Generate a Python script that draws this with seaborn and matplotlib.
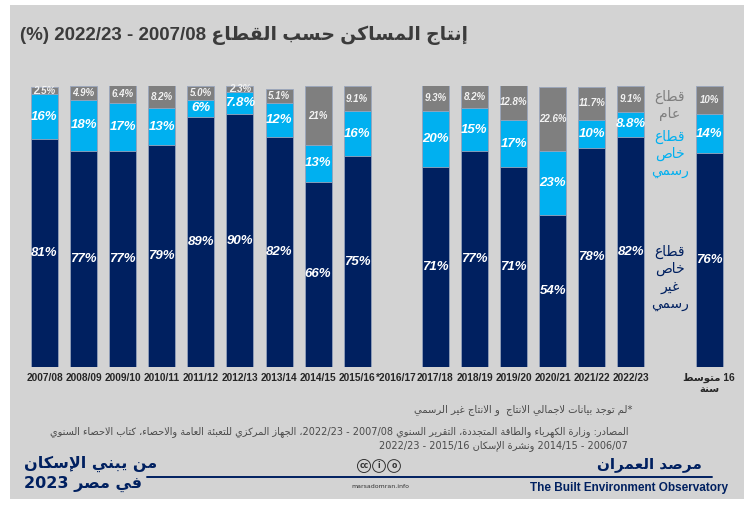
import re
import numpy as np
import pandas as pd
import matplotlib
matplotlib.use('Agg')
import matplotlib.pyplot as plt
from matplotlib import font_manager
from matplotlib.patches import Rectangle
import seaborn as sns

# ------------------------------------------------------------------
# Data
years = ['2007/08', '2008/09', '2009/10', '2010/11', '2011/12', '2012/13',
         '2013/14', '2014/15', '2015/16', '2017/18', '2018/19', '2019/20',
         '2020/21', '2021/22', '2022/23', 'avg']
informal = [81, 77, 77, 79, 89, 90, 82, 66, 75, 71, 77, 71, 54, 78, 82, 76]
formal = [16, 18, 17, 13, 6, 7.8, 12, 13, 16, 20, 15, 17, 23, 10, 8.8, 14]
public = [2.5, 4.9, 6.4, 8.2, 5.0, 2.3, 5.1, 21, 9.1, 9.3, 8.2, 12.8, 22.6, 11.7, 9.1, 10]
public_labels = ['2.5%', '4.9%', '6.4%', '8.2%', '5.0%', '2.3%', '5.1%', '21%', '9.1%',
                 '9.3%', '8.2%', '12.8%', '22.6%', '11.7%', '9.1%', '10%']

# slot order on the x axis: 2016/17 has no data, 'gap' holds the legend words
slots = years[:9] + ['2016/17'] + years[9:15] + ['gap', 'avg']

title = 'إنتاج المساكن حسب القطاع 2007/08 - 2022/23 (%)'
avg_label = ['16 متوسط', 'سنة']
legend_public = ['قطاع', 'عام']
legend_formal = ['قطاع', 'خاص', 'رسمي']
legend_informal = ['قطاع', 'خاص', 'غير', 'رسمي']
note = '*لم توجد بيانات لاجمالي الانتاج  و الانتاج غير الرسمي'
sources = ['المصادر: وزارة الكهرباء والطاقة المتجددة، التقرير السنوي 2007/08 - 2022/23، الجهاز المركزي للتعبئة العامة والاحصاء، كتاب الاحصاء السنوي',
           '2006/07 - 2014/15 ونشرة الإسكان 2015/16 - 2022/23']
brand_left = ['من يبني الإسكان', 'في مصر 2023']
brand_right = 'مرصد العمران'

NAVY = '#002060'
BLUE = '#00b0f0'
GREY = '#7f7f7f'
PANEL = '#d3d3d3'

# ------------------------------------------------------------------
# Minimal Arabic shaping + right-to-left ordering (matplotlib 3.10 has none)
FORMS = {
    '\u0621': (0xFE80, 1), '\u0622': (0xFE81, 2), '\u0623': (0xFE83, 2),
    '\u0624': (0xFE85, 2), '\u0625': (0xFE87, 2), '\u0626': (0xFE89, 4),
    '\u0627': (0xFE8D, 2), '\u0628': (0xFE8F, 4), '\u0629': (0xFE93, 2),
    '\u062A': (0xFE95, 4), '\u062B': (0xFE99, 4), '\u062C': (0xFE9D, 4),
    '\u062D': (0xFEA1, 4), '\u062E': (0xFEA5, 4), '\u062F': (0xFEA9, 2),
    '\u0630': (0xFEAB, 2), '\u0631': (0xFEAD, 2), '\u0632': (0xFEAF, 2),
    '\u0633': (0xFEB1, 4), '\u0634': (0xFEB5, 4), '\u0635': (0xFEB9, 4),
    '\u0636': (0xFEBD, 4), '\u0637': (0xFEC1, 4), '\u0638': (0xFEC5, 4),
    '\u0639': (0xFEC9, 4), '\u063A': (0xFECD, 4), '\u0641': (0xFED1, 4),
    '\u0642': (0xFED5, 4), '\u0643': (0xFED9, 4), '\u0644': (0xFEDD, 4),
    '\u0645': (0xFEE1, 4), '\u0646': (0xFEE5, 4), '\u0647': (0xFEE9, 4),
    '\u0648': (0xFEED, 2), '\u0649': (0xFEEF, 2), '\u064A': (0xFEF1, 4),
}
LAM_ALEF = {'\u0622': 0xFEF5, '\u0623': 0xFEF7, '\u0625': 0xFEF9, '\u0627': 0xFEFB}
MIRROR = {'(': ')', ')': '('}


def shape(text):
    units = []
    i = 0
    while i < len(text):
        c = text[i]
        if c == '\u0644' and i + 1 < len(text) and text[i + 1] in LAM_ALEF:
            units.append(('LA', text[i + 1]))
            i += 2
        else:
            units.append((c, None))
            i += 1

    def joins_next(u):
        return u[0] in FORMS and FORMS[u[0]][1] == 4

    def joins_prev(u):
        return u[0] == 'LA' or (u[0] in FORMS and FORMS[u[0]][1] >= 2)

    out = []
    for k, u in enumerate(units):
        prev = k > 0 and joins_next(units[k - 1]) and joins_prev(u)
        nxt = k < len(units) - 1 and joins_next(u) and joins_prev(units[k + 1])
        if u[0] == 'LA':
            out.append(chr(LAM_ALEF[u[1]] + (1 if prev else 0)))
        elif u[0] in FORMS:
            base, n = FORMS[u[0]]
            if n == 4:
                off = 3 if (prev and nxt) else 1 if prev else 2 if nxt else 0
            elif n == 2:
                off = 1 if prev else 0
            else:
                off = 0
            out.append(chr(base + off))
        else:
            out.append(u[0])
    return ''.join(out)


def rtl(text):
    tokens = re.findall(r'[0-9A-Za-z/.%]+|[^0-9A-Za-z/.%]', shape(text))
    return ''.join(MIRROR.get(t, t) for t in reversed(tokens))


# ------------------------------------------------------------------
names = {f.name for f in font_manager.fontManager.ttflist}
NARROW = 'Liberation Sans Narrow' if 'Liberation Sans Narrow' in names else 'Liberation Sans'

sns.set_style('white')
plt.rcParams['font.family'] = [NARROW, 'DejaVu Sans']

W, H = 756, 516
fig = plt.figure(figsize=(W / 100, H / 100), dpi=100, facecolor='white')
fig.add_artist(Rectangle((10 / W, 1 - 499 / H), 734 / W, 494 / H,
                         transform=fig.transFigure, facecolor=PANEL,
                         edgecolor='none', zorder=-5))


def ftext(x, y, s, **kw):
    fig.text(x / W, 1 - y / H, s, **kw)


ax = fig.add_axes([21 / W, 1 - 367 / H, 711.5 / W, 281 / H])
ax.set_facecolor('none')

df = pd.DataFrame({'period': years, 'informal': informal,
                   'formal': formal, 'public': public})
df['formal_top'] = df['informal'] + df['formal']
df['public_top'] = df['formal_top'] + df['public']

bar_kw = dict(data=df, x='period', order=slots, width=0.69, saturation=1,
              errorbar=None, edgecolor='#9aa6bd', linewidth=0.6, ax=ax)
sns.barplot(y='public_top', color=GREY, **bar_kw)
sns.barplot(y='formal_top', color=BLUE, **bar_kw)
sns.barplot(y='informal', color=NAVY, **bar_kw)

# value labels
for _, row in df.iterrows():
    xi = slots.index(row['period'])
    k = years.index(row['period'])
    ax.text(xi, row['informal'] / 2, f"{row['informal']:g}%", ha='center', va='center',
            color='white', fontsize=9.5, fontweight='bold', style='italic',
            family='Liberation Sans')
    ax.text(xi, row['informal'] + row['formal'] / 2, f"{row['formal']:g}%", ha='center',
            va='center', color='white', fontsize=9.5, fontweight='bold', style='italic',
            family='Liberation Sans')
    ax.text(xi, row['formal_top'] + row['public'] / 2, public_labels[k], ha='center',
            va='center', color='#f2f2f2', fontsize=7, fontweight='bold', style='italic',
            family='Liberation Sans')

# legend words in the gap column
gx = slots.index('gap')
for j, w in enumerate(legend_public):
    ax.text(gx, 96 - j * 5.8, rtl(w), ha='center', va='center', color=GREY,
            fontsize=10, family='DejaVu Sans')
for j, w in enumerate(legend_formal):
    ax.text(gx, 82 - j * 6.2, rtl(w), ha='center', va='center', color=BLUE,
            fontsize=10, family='DejaVu Sans')
for j, w in enumerate(legend_informal):
    ax.text(gx, 41 - j * 6.2, rtl(w), ha='center', va='center', color=NAVY,
            fontsize=10, family='DejaVu Sans')

tick_labels = []
for s in slots:
    if s == '2016/17':
        tick_labels.append('*2016/17')
    elif s == 'gap':
        tick_labels.append('')
    elif s == 'avg':
        tick_labels.append('\n'.join(rtl(t) for t in avg_label))
    else:
        tick_labels.append(s)
ax.set_xticks(range(len(slots)), tick_labels)
ax.tick_params(axis='x', length=0, pad=4, labelsize=7.3)
for lab in ax.get_xticklabels():
    lab.set_fontweight('bold')
ax.set_yticks([])
ax.set_xlabel('')
ax.set_ylabel('')
ax.set_xlim(-0.6, len(slots) - 0.4)
ax.set_ylim(0, 100)
sns.despine(ax=ax, left=True, bottom=True)

# title
ftext(20, 35, rtl(title), ha='left', va='center', fontsize=13.5, fontweight='bold',
      color='#3b3b3b')

# notes and sources
ftext(632, 410, rtl(note), ha='right', va='center', fontsize=7.2, color='#4a4a4a',
      family='DejaVu Sans')
for j, line in enumerate(sources):
    ftext(628, 432 + j * 14, rtl(line), ha='right', va='center', fontsize=7,
          color='#4a4a4a', family='DejaVu Sans')

# footer branding
ftext(24, 464, rtl(brand_left[0]), ha='left', va='center', fontsize=11.5,
      fontweight='bold', color=NAVY, family='DejaVu Sans')
ftext(24, 484, rtl(brand_left[1]), ha='left', va='center', fontsize=11.5,
      fontweight='bold', color=NAVY, family='DejaVu Sans')
fig.add_artist(plt.Line2D([147 / W, 712 / W], [1 - 477 / H, 1 - 477 / H],
                          color=NAVY, lw=1.4, transform=fig.transFigure))
ftext(702, 464, rtl(brand_right), ha='right', va='center', fontsize=11,
      fontweight='bold', color=NAVY, family='DejaVu Sans')
ftext(728, 488, 'The Built Environment Observatory', ha='right', va='center',
      fontsize=8.5, fontweight='bold', color=NAVY)
for j, sym in enumerate(['cc', 'i', 'o']):
    ftext(364 + j * 15, 466, sym, ha='center', va='center', fontsize=5.5,
          fontweight='bold', color='#333333', family='DejaVu Sans',
          bbox=dict(boxstyle='circle,pad=0.25', fc='none', ec='#333333', lw=0.7))
ftext(380, 486, 'marsadomran.info', ha='center', va='center', fontsize=4.5,
      color='#333333', family='DejaVu Sans')

fig.savefig('out.png', dpi=100, facecolor='white')
